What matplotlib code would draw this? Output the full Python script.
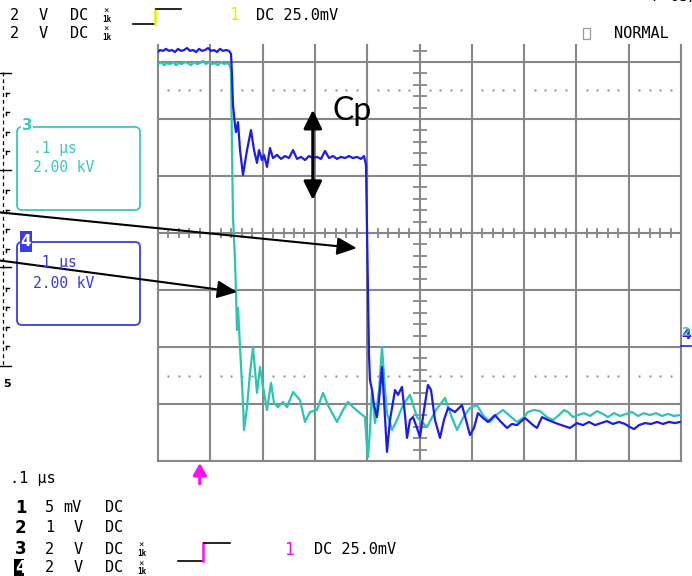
import matplotlib
matplotlib.use('Agg')
import matplotlib.pyplot as plt
from matplotlib.patches import FancyBboxPatch, Rectangle, ArrowStyle

# ---------------- data ----------------
time_per_div_ns = 100
kv_per_div = 2.0
n_xdiv, n_ydiv = 10, 8
trigger_time_ns = 80

ch4_t_ns = [0, 3.8, 9.6, 15.3, 21.0, 26.8, 32.5, 38.2, 44.0, 49.7, 55.4, 61.2, 66.9, 72.7, 78.4, 84.1,
            89.9, 95.6, 101.3, 107.1, 112.8, 118.5, 124.3, 130.0, 135.8, 139.6, 141.5, 143.4, 147.2, 149.1,
            153.0, 156.8, 162.5, 170.2, 177.8, 183.6, 189.3, 193.1, 198.8, 202.7, 208.4, 214.1, 219.9, 227.5,
            235.2, 242.8, 250.5, 258.1, 265.8, 273.4, 281.1, 288.7, 296.4, 304.0, 311.7, 319.3, 327.0, 334.6,
            342.2, 349.9, 357.5, 365.2, 372.8, 380.5, 388.1, 393.9, 397.7, 399.6, 401.5, 403.4, 405.3, 409.2,
            413.0, 418.7, 422.6, 428.3, 432.1, 437.8, 443.6, 453.2, 458.9, 466.5, 472.3, 476.1, 481.8, 487.6,
            493.3, 500.9, 508.6, 516.2, 522.0, 529.6, 539.2, 546.8, 554.5, 567.9, 581.2, 588.9, 596.5, 604.2,
            611.8, 621.4, 630.9, 644.3, 655.8, 667.3, 676.8, 686.4, 701.7, 717.0, 724.6, 734.2, 745.7, 755.2,
            764.8, 776.3, 787.7, 801.1, 812.6, 824.1, 835.5, 847.0, 858.5, 869.9, 881.4, 892.9, 902.5, 910.1,
            919.7, 931.1, 942.6, 954.1, 965.6, 977.0, 988.5, 998.0]
ch4_kv = [6.35, 6.42, 6.39, 6.46, 6.39, 6.42, 6.35, 6.46, 6.39, 6.42, 6.49, 6.39, 6.42, 6.35, 6.46, 6.39,
          6.42, 6.49, 6.39, 6.42, 6.35, 6.46, 6.39, 6.42, 6.39, 6.28, 5.54, 4.49, 3.79, 3.54,
          3.89, 2.91, 2.04, 2.91, 3.61, 2.91, 2.46, 2.91, 2.56, 2.74, 2.32, 2.98, 2.63, 2.74,
          2.60, 2.70, 2.63, 2.91, 2.60, 2.67, 2.56, 2.70, 2.63, 2.67, 2.60, 2.88, 2.63, 2.70,
          2.60, 2.67, 2.63, 2.70, 2.63, 2.67, 2.60, 2.70, 2.39, 0.11, -2.35, -4.28, -5.16, -5.51,
          -6.04, -6.46, -5.86, -4.70, -5.86, -7.68, -6.56, -5.51, -5.68, -5.40, -6.39, -7.19, -6.56, -6.46,
          -6.74, -7.16, -6.21, -5.33, -5.51, -6.56, -7.19, -6.56, -6.14, -6.28, -6.04, -6.56, -7.09, -6.84,
          -6.32, -6.49, -6.63, -6.39, -6.63, -6.84, -6.70, -6.74, -6.49, -6.74, -6.84, -6.46, -6.56, -6.63,
          -6.70, -6.77, -6.84, -6.67, -6.74, -6.63, -6.74, -6.67, -6.60, -6.70, -6.63, -6.70, -6.81, -6.88,
          -6.74, -6.67, -6.70, -6.63, -6.70, -6.63, -6.67, -6.63]

ch3_t_ns = [0, 5.7, 11.5, 17.2, 22.9, 28.7, 34.4, 40.2, 45.9, 51.6, 57.4, 63.1, 68.8, 74.6, 80.3, 86.0,
            91.8, 97.5, 103.2, 109.0, 114.7, 120.5, 126.2, 131.9, 135.8, 139.6, 141.5, 143.4, 147.2, 149.1,
            151.0, 153.0, 156.8, 162.5, 164.4, 170.2, 175.9, 181.6, 185.5, 189.3, 195.0, 200.8, 208.4, 216.1,
            221.8, 229.4, 239.0, 246.6, 258.1, 271.5, 281.1, 290.6, 304.0, 315.5, 325.0, 342.2, 353.7, 363.3,
            372.8, 386.2, 395.8, 399.6, 401.5, 405.3, 409.2, 414.9, 422.6, 428.3, 434.1, 437.8, 447.4, 456.9,
            468.4, 481.8, 495.2, 514.3, 531.5, 548.7, 560.2, 571.7, 583.2, 596.5, 609.9, 621.4, 634.8, 646.3,
            659.6, 673.0, 686.4, 697.9, 707.4, 718.9, 730.4, 743.8, 755.2, 766.7, 776.3, 783.9, 793.5, 803.0,
            814.5, 826.0, 839.4, 850.8, 860.4, 871.9, 883.3, 894.8, 906.3, 917.8, 929.2, 940.7, 952.2, 963.6,
            975.1, 986.6, 998.0]
ch3_kv = [5.93, 6.00, 5.89, 5.96, 5.93, 6.00, 5.89, 5.96, 5.93, 6.00, 5.96, 5.89, 6.00, 5.93, 5.96, 6.04,
          5.93, 6.00, 5.93, 5.96, 5.89, 6.00, 5.93, 5.96, 5.93, 5.72, 2.91, 0.56, -0.95, -2.04,
          -3.40, -2.63, -4.00, -5.96, -6.91, -6.11, -4.91, -4.00, -4.81, -5.61, -4.70, -5.40, -6.21, -5.26,
          -5.96, -6.11, -5.93, -6.11, -5.58, -5.86, -6.63, -6.28, -6.21, -5.61, -6.04, -6.63, -6.21, -5.93,
          -6.11, -6.32, -6.46, -7.51, -7.86, -6.91, -5.51, -6.67, -5.51, -4.00, -5.51, -6.32, -6.91, -6.56,
          -6.04, -5.68, -6.46, -6.81, -6.21, -5.79, -6.39, -6.91, -6.49, -6.14, -6.04, -6.39, -6.63, -6.39,
          -6.21, -6.42, -6.63, -6.49, -6.28, -6.21, -6.25, -6.46, -6.56, -6.39, -6.21, -6.28, -6.46, -6.39,
          -6.32, -6.42, -6.25, -6.35, -6.46, -6.32, -6.42, -6.35, -6.28, -6.42, -6.32, -6.39, -6.32, -6.42,
          -6.35, -6.42, -6.39]

cp_arrow_t_ns = 296
cp_arrow_kv = [4.32, 1.16]
pointer_ch4 = (380, -0.53)
pointer_ch3 = (151, -2.07)

channel_rows = [  # number, volts/div value, unit, x1k probe
    ('1', '5', 'mV', False),
    ('2', '1', 'V', False),
    ('3', '2', 'V', True),
    ('4', '2', 'V', True),
]

assert len(ch4_t_ns) == len(ch4_kv)
assert len(ch3_t_ns) == len(ch3_kv)

# ---------------- styling ----------------
blue = '#1c1ce8'
cyan = '#2cc4b2'
box_cyan = '#3cc8bc'
box_blue = '#3a3ae6'
grid_c = '#878787'
magenta = '#ff10f0'
yellow = '#ecec00'
mono = 'DejaVu Sans Mono'

W, H = 692, 576
fig = plt.figure(figsize=(W / 100, H / 100), dpi=100)
fig.patch.set_facecolor('white')

# graticule geometry (pixels)
gl, gr, gt, gb, gvis = 158, 681, 5, 461, 45
ax = fig.add_axes([gl / W, 1 - gb / H, (gr - gl) / W, (gb - gvis) / H])
xmax = n_xdiv * time_per_div_ns
ymin = -n_ydiv / 2 * kv_per_div
ymax = ymin + n_ydiv * kv_per_div * (gb - gvis) / (gb - gt)
ax.set_xlim(0, xmax)
ax.set_ylim(ymin, ymax)
ax.axis('off')

for i in range(n_xdiv + 1):
    ax.axvline(i * time_per_div_ns, color=grid_c, lw=1.5, zorder=1, clip_on=False)
for j in range(n_ydiv + 1):
    yv = ymin + j * kv_per_div
    if yv <= ymax:
        ax.axhline(yv, color=grid_c, lw=1.5, zorder=1, clip_on=False)

minor_x = [k * time_per_div_ns / 5 for k in range(n_xdiv * 5 + 1)]
ax.plot(minor_x, [0] * len(minor_x), ls='none', marker='|', ms=7, mew=1.3, color=grid_c, zorder=1)
minor_y = [ymin + k * kv_per_div / 5 for k in range(n_ydiv * 5 + 1)]
minor_y = [v for v in minor_y if v <= ymax]
ax.plot([xmax / 2] * len(minor_y), minor_y, ls='none', marker='_', ms=9.5, mew=1.3, color=grid_c, zorder=1)
dots_x = [x for k, x in enumerate(minor_x) if k % 5]
for yd in (2.5 * kv_per_div, -2.5 * kv_per_div):
    ax.plot(dots_x, [yd] * len(dots_x), ls='none', marker='s', ms=1.4, mew=0, color='#8a8a8a', zorder=1)

ax.plot(ch3_t_ns, ch3_kv, color=cyan, lw=1.6, zorder=3)
ax.plot(ch4_t_ns, ch4_kv, color=blue, lw=1.6, zorder=4)

# Cp double arrow
ax.annotate('', xy=(cp_arrow_t_ns, cp_arrow_kv[1]), xytext=(cp_arrow_t_ns, cp_arrow_kv[0]),
            arrowprops=dict(arrowstyle=ArrowStyle('<|-|>', head_length=0.75, head_width=0.37),
                            mutation_scale=15, lw=2.2, color='black', shrinkA=0, shrinkB=0),
            zorder=6, annotation_clip=False)

# trigger marker
ax.annotate('', xy=(trigger_time_ns, -2), xycoords=('data', 'axes pixels'),
            xytext=(0, -15), textcoords='offset points',
            arrowprops=dict(arrowstyle=ArrowStyle('-|>', head_length=0.7, head_width=0.4),
                            mutation_scale=10, lw=2.3, color=magenta, shrinkA=0, shrinkB=0),
            annotation_clip=False)

# ---------------- overlay (screen annotations) ----------------
ov = fig.add_axes([0, 0, 1, 1])
ov.set_xlim(0, W)
ov.set_ylim(H, 0)
ov.axis('off')

arrow_p = dict(arrowstyle=ArrowStyle('-|>', head_length=0.8, head_width=0.36), mutation_scale=15,
               lw=1.5, color='black', shrinkA=0, shrinkB=0)
ov.annotate('', xy=pointer_ch4, xycoords=ax.transData, xytext=(-4, 212), textcoords='data',
            arrowprops=arrow_p, annotation_clip=False)
ov.annotate('', xy=pointer_ch3, xycoords=ax.transData, xytext=(-4, 260), textcoords='data',
            arrowprops=arrow_p, annotation_clip=False)

ov.text(332, 111, 'Cp', fontsize=23, family='Lato', va='center', ha='left', color='black')


def txt(x, y, s, size=11, color='black', weight='normal', family=mono, **kw):
    return ov.text(x, y, s, fontsize=size, color=color, fontweight=weight, family=family,
                   va='center', ha='left', **kw)


def chan_row(x0, y, num, val, unit, probe, inverse=False, show_num=True):
    if show_num:
        if inverse:
            ov.add_patch(Rectangle((x0 - 1, y - 9), 10, 18, color='black', lw=0))
            txt(x0, y, num, size=12, color='white', weight='bold', family='DejaVu Sans')
        else:
            txt(x0, y, num, size=12, weight='bold', family='DejaVu Sans')
    txt(x0 + 30, y, val)
    if unit == 'mV':
        txt(x0 + 48, y, unit)
    else:
        txt(x0 + 59, y, unit)
    txt(x0 + 90, y, 'DC')
    if probe:
        txt(x0 + 123, y - 4, '×', size=6.5)
        txt(x0 + 122, y + 4, '1k', size=5.5, weight='bold')


# bottom status block
txt(10, 479, '.1 µs')
for (num, val, unit, probe), yy in zip(channel_rows, [508, 528, 549, 568]):
    chan_row(15, yy, num, val, unit, probe, inverse=(num == '4'))

# bottom trigger readout
ov.plot([178, 202], [561, 561], color='black', lw=1.2)
ov.plot([203, 203], [543, 561], color=magenta, lw=1.8)
ov.plot([204, 230], [543, 543], color='black', lw=1.2)
txt(284, 550, '1', color=magenta, size=12)
txt(314, 550, 'DC 25.0mV')

# header (rows partly scrolled off the screen, as in the capture)
chan_row(-20, -4, '2', '1', 'V', False, show_num=False)
for (num, val, unit, probe), yy in zip(channel_rows[2:], [15, 33]):
    chan_row(-20, yy, num, val, unit, probe, show_num=False)
ov.plot([133, 154], [24, 24], color='black', lw=1.2)
ov.plot([155, 155], [9, 24], color=yellow, lw=1.8)
ov.plot([156, 181], [9, 9], color='black', lw=1.2)
txt(229, 15, '1', color=yellow, size=12)
txt(256, 15, 'DC 25.0mV')
ov.add_patch(Rectangle((583, 28), 7, 11, fill=False, ec='#9a9a9a', lw=0.9))
txt(614, 34, 'NORMAL')
txt(652, -3, 'F 05/A')

# channel info boxes
ov.add_patch(FancyBboxPatch((17, 127), 123, 83, boxstyle='round,pad=0,rounding_size=5',
                            fc='none', ec=box_cyan, lw=1.3))
ov.text(27, 126, '3', fontsize=11, fontweight='bold', color=box_cyan, family='DejaVu Sans',
        va='center', ha='center', bbox=dict(fc='white', ec='none', pad=0.5))
txt(33, 148, '.1 µs', size=10.5, color=box_cyan)
txt(33, 168, '2.00 kV', size=10.5, color=box_cyan)

ov.add_patch(FancyBboxPatch((17, 242), 123, 83, boxstyle='round,pad=0,rounding_size=5',
                            fc='none', ec=box_blue, lw=1.3))
ov.add_patch(Rectangle((20, 231), 12, 21, color=box_blue, lw=0))
ov.text(26, 241, '4', fontsize=11, fontweight='bold', color='white', family='DejaVu Sans',
        va='center', ha='center')
txt(33, 263, '.1 µs', size=10.5, color=box_blue)
txt(33, 283, '2.00 kV', size=10.5, color=box_blue)

# left-edge scale
ov.plot([3, 3], [72, 367], color='black', lw=0.9, ls=(0, (3, 2.5)))
for yy in (73, 170, 267, 366):
    ov.plot([0, 11], [yy, yy], color='black', lw=1.0)
for k in range(16):
    yy = 73 + 19.5 * k
    if k % 5:
        ov.plot([6, 9], [yy, yy], color='black', lw=1.0)
        ov.plot([6, 6], [yy, yy + 3], color='black', lw=1.0)
ov.text(7, 384, '5', fontsize=8, fontweight='bold', family='DejaVu Sans', va='center', ha='center')

# right-edge ground markers (channels 2 and 4 share the same level, drawn overlapping)
ov.text(686, 335, '4', fontsize=10, fontweight='bold', color=blue, family='DejaVu Sans',
        va='center', ha='center')
ov.text(686, 333, '2', fontsize=9, fontweight='bold', color=cyan, family='DejaVu Sans',
        va='center', ha='center', alpha=0.9)
ov.plot([681, 691], [346, 346], color=blue, lw=1.2)

fig.savefig('out.png', dpi=100, facecolor='white')
